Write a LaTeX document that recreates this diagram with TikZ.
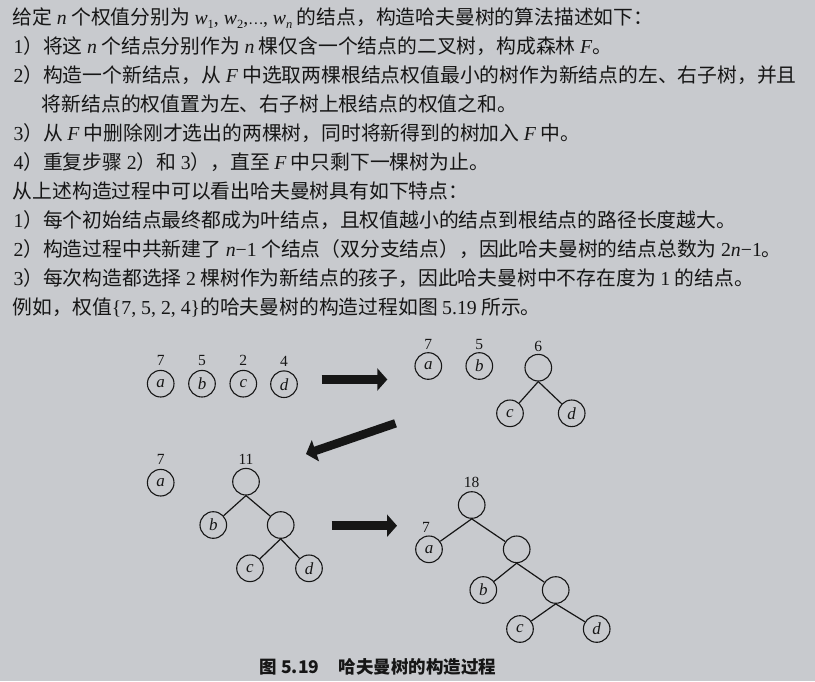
\documentclass[tikz,border=0pt]{standalone}
\usepackage{fontspec}
\setmainfont{Noto Sans CJK SC}
\newfontfamily\lat{Liberation Serif}
\usetikzlibrary{arrows.meta}
\definecolor{bg}{RGB}{200,202,206}
\definecolor{ink}{RGB}{22,22,22}
\newcommand\vi[1]{{\lat\itshape #1}}
\newcommand\up[1]{{\lat #1}}
\newcommand\ix[1]{\raisebox{-0.22em}{\lat\fontsize{12.5}{13}\selectfont #1}}

\begin{document}
\begin{tikzpicture}[x=1pt,y=-1pt,
    ln/.style={anchor=base west,inner sep=0pt,text=ink,font=\fontsize{19.8}{24}\selectfont},
    nd/.style={circle,draw=ink,line width=1.1pt,minimum size=26.6pt,inner sep=0pt,
      text=ink,font=\lat\itshape\fontsize{17}{17}\selectfont},
    wt/.style={inner sep=1pt,text=ink,font=\lat\fontsize{15.5}{16}\selectfont},
    ed/.style={draw=ink,line width=1.2pt},
    big/.style={draw=ink,line width=8.5pt,-{Triangle[width=22pt,length=10pt]}},
    every label/.style={wt},label distance=3pt]
    \useasboundingbox (0,0) rectangle (815,681);
    \fill[bg] (0,0) rectangle (815,681);

    % text above the figure
    \node[ln] (l1) at (12.7,24.2) {给定 \vi{n} 个权值分别为 \vi{w}\ix{1}\up{, }\vi{w}\ix{2}\up{,}{\fontsize{14}{14}\selectfont ⋯}\up{, }\vi{w}\ix{\itshape n} 的结点，构造哈夫曼树的算法描述如下：};
    \node[ln] (l2) at (13.3,53.2) {\up{1}）将这 \vi{n} 个结点分别作为 \vi{n} 棵仅含一个结点的二叉树，构成森林 \vi{F}。};
    \node[ln] (l3) at (13.3,82.2) {\up{2}）构造一个新结点，从 \vi{F} 中选取两棵根结点权值最小的树作为新结点的左、右子树，并且};
    \node[ln] (l4) at (41.7,111.2) {将新结点的权值置为左、右子树上根结点的权值之和。};
    \node[ln] (l5) at (13.3,140.2) {\up{3}）从 \vi{F} 中删除刚才选出的两棵树，同时将新得到的树加入 \vi{F} 中。};
    \node[ln] (l6) at (13.3,169.2) {\up{4}）重复步骤 \up{2}）和 \up{3}），直至 \vi{F} 中只剩下一棵树为止。};
    \node[ln] (l7) at (12.7,198.2) {从上述构造过程中可以看出哈夫曼树具有如下特点：};
    \node[ln] (l8) at (13.3,227.2) {\up{1}）每个初始结点最终都成为叶结点，且权值越小的结点到根结点的路径长度越大。};
    \node[ln] (l9) at (13.3,256.2) {\up{2}）构造过程中共新建了 \vi{n}\up{−1} 个结点（双分支结点），因此哈夫曼树的结点总数为 \up{2}\vi{n}\up{−1}。};
    \node[ln] (l10) at (13.3,285.2) {\up{3}）每次构造都选择 \up{2} 棵树作为新结点的孩子，因此哈夫曼树中不存在度为 \up{1} 的结点。};
    \node[ln] (l11) at (12.7,314.2) {例如，权值\up{\{7, 5, 2, 4\}}的哈夫曼树的构造过程如图 \up{5.19} 所示。};

    % forest 1
    \node[nd,label=above:7] (a1) at (160.7,383.7) {a};
    \node[nd,label=above:5] (b1) at (202,383.7) {b};
    \node[nd,label=above:2] (c1) at (243.3,383.7) {c};
    \node[nd,label=above:4] (d1) at (284,384.2) {d};

    % forest 2
    \node[nd,label={[label distance=1.5pt]above:7}] (a2) at (428.3,366) {a};
    \node[nd,label={[label distance=1.5pt]above:5}] (b2) at (479.3,366) {b};
    \node[nd,label={[label distance=1.5pt]above:6}] (r6) at (538.3,367.7) {};
    \node[nd] (c2) at (510,413.3) {c};
    \node[nd] (d2) at (571.7,413.3) {d};
    \draw[ed] (r6.south) -- (c2);
    \draw[ed] (r6.south) -- (d2);

    % forest 3
    \node[nd,label=above:7] (a3) at (160.7,482.7) {a};
    \node[nd,label={[label distance=2pt]above:11}] (r11) at (246,481.7) {};
    \node[nd] (b3) at (213.3,525) {b};
    \node[nd] (n6) at (280.7,525) {};
    \node[nd] (c3) at (250,568.3) {c};
    \node[nd] (d3) at (309,568.3) {d};
    \draw[ed] (r11.south) -- (b3);
    \draw[ed] (r11.south) -- (n6);
    \draw[ed] (n6.south) -- (c3);
    \draw[ed] (n6.south) -- (d3);

    % final tree
    \node[nd,label={[label distance=2pt]above:18}] (r18) at (471.7,505) {};
    \node[nd,label={[label distance=2pt,xshift=-3pt]above:7}] (a4) at (429,549.3) {a};
    \node[nd] (m11) at (516.7,549.3) {};
    \node[nd] (b4) at (483.3,590) {b};
    \node[nd] (m6) at (555.7,590) {};
    \node[nd] (c4) at (520,629) {c};
    \node[nd] (d4) at (596.7,629) {d};
    \draw[ed] (r18.south) -- (a4);
    \draw[ed] (r18.south) -- (m11);
    \draw[ed] (m11.south) -- (b4);
    \draw[ed] (m11.south) -- (m6);
    \draw[ed] (m6.south) -- (c4);
    \draw[ed] (m6.south) -- (d4);

    % big arrows
    \coordinate (s1) at (321.7,379.5);
    \coordinate (e1) at (387.3,379.5);
    \coordinate (s2) at (395.5,423.3);
    \coordinate (e2) at (306,454);
    \coordinate (s3) at (331.7,525.7);
    \coordinate (e3) at (397,525.7);
    \draw[big] (s1) -- (e1);
    \draw[big] (s2) -- (e2);
    \draw[big] (s3) -- (e3);

    \node[text=ink,font=\bfseries\fontsize{17.5}{20}\selectfont] (cap) at (378,666.7) {图 5.19\hspace{1.1em}哈夫曼树的构造过程};
\end{tikzpicture}
\end{document}
